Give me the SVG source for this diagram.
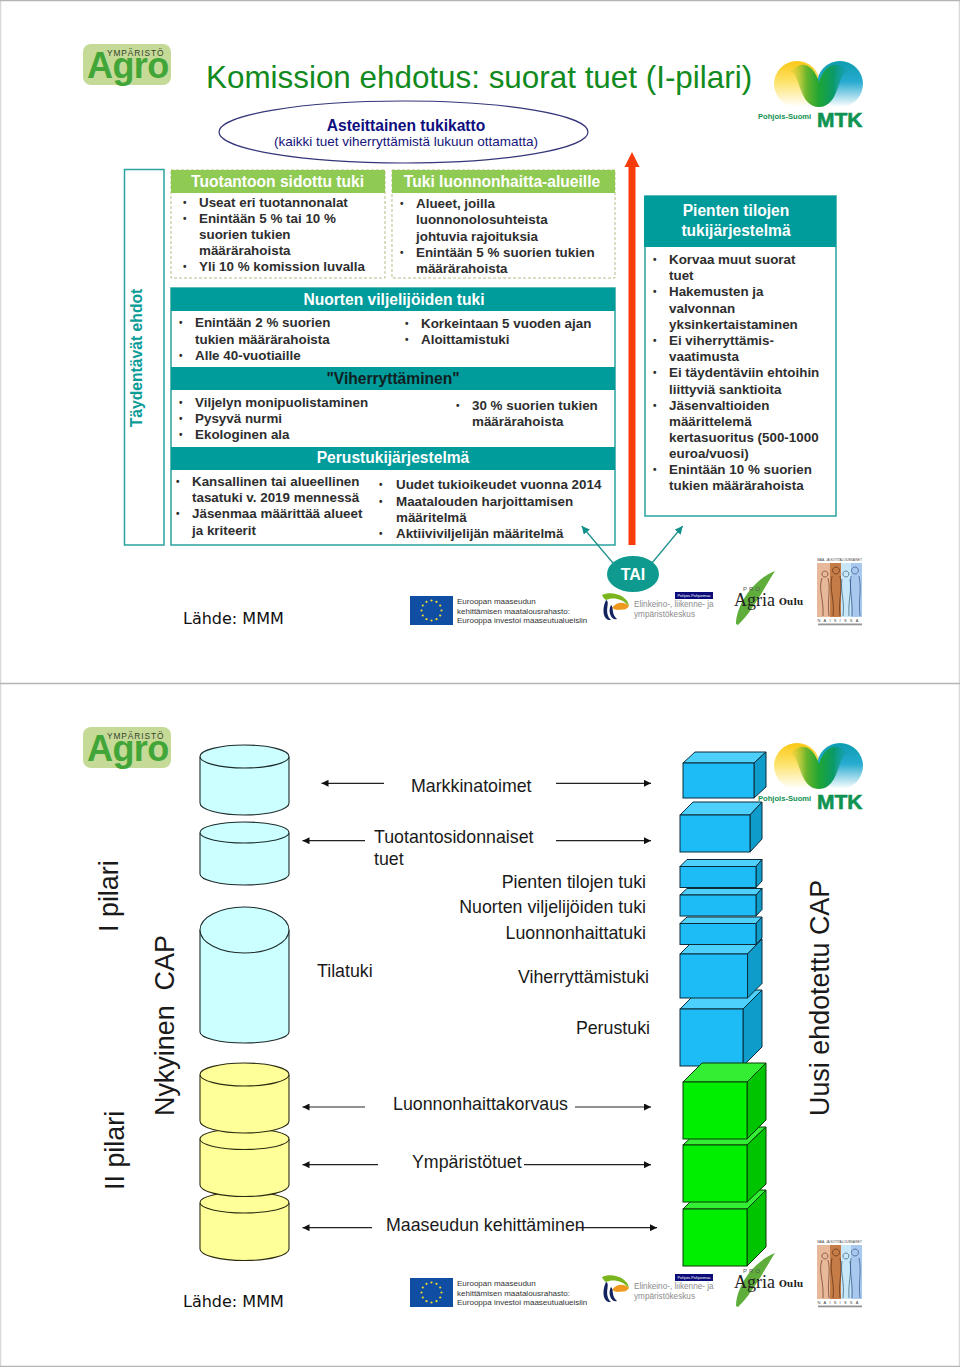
<svg xmlns="http://www.w3.org/2000/svg" width="960" height="1367" viewBox="0 0 960 1367">
<style>
text{font-family:"Liberation Sans",Arial,sans-serif}
.b{font-size:13.4px;font-weight:700;fill:#2e2e2e}
.bu{font-size:10px;font-weight:700;fill:#2e2e2e}
.h{font-size:15.6px;font-weight:700;fill:#fff;text-anchor:middle}
.t{font-size:17.8px;fill:#1a1a1a}
.e{text-anchor:end}
.v{font-size:26.9px;fill:#1a1a1a}
.src{font-family:"DejaVu Sans",sans-serif;font-size:16px;fill:#111}
.band{fill:#009b9b}
.gh{fill:#8fca52}
.dash{fill:#fff;stroke:#b9bb85;stroke-width:1;stroke-dasharray:3 2}
.tb{fill:#fff;stroke:#2aa39f;stroke-width:1.5}
.cy{stroke:#1c2b2b;stroke-width:1.1;fill:#ccffff}
.ye{stroke:#2b2b10;stroke-width:1.1;fill:#ffff99}
.f1{fill:#1dbcf6;stroke:#0c2c3a;stroke-width:1}
.t1{fill:#4dd0fb;stroke:#0c2c3a;stroke-width:1}
.s1{fill:#0e9ccb;stroke:#0c2c3a;stroke-width:1}
.f2{fill:#00ee00;stroke:#0a3a0a;stroke-width:1}
.t2{fill:#33ee33;stroke:#0a3a0a;stroke-width:1}
.s2{fill:#00c400;stroke:#0a3a0a;stroke-width:1}
.con{fill:none;stroke:#222;stroke-width:1.2;marker-end:url(#ah)}
.tc{fill:none;stroke:#1a8f8a;stroke-width:1.2;marker-end:url(#at)}
.eut{font-size:8px;fill:#333}
.ely{font-size:8.2px;fill:#8c8c8c}
.agro{font-size:36px;font-weight:700;letter-spacing:-.6px;fill:#41a637}
.ymp{font-size:8.4px;fill:#33442a;letter-spacing:.9px}
.pohj{font-size:7.6px;font-weight:700;fill:#12914f}
.mtk{font-size:21px;font-weight:700;fill:#0f9350;stroke:#0f9350;stroke-width:.6}
.pro{font-size:6px;letter-spacing:2px;fill:#555}
.agr{font-family:"Liberation Serif",serif;font-size:18px;fill:#222}
.oul{font-family:"DejaVu Serif",serif;font-size:9px;font-weight:700;fill:#222}
.n1{font-size:3.2px;fill:#444;text-anchor:middle}
.n2{font-size:4px;letter-spacing:3.2px;fill:#444;text-anchor:middle}
.pp{font-size:3.8px;fill:#fff;text-anchor:middle}
</style>
<defs>
<marker id="ah" markerWidth="8" markerHeight="7" refX="7" refY="3.5" orient="auto" markerUnits="userSpaceOnUse"><path d="M0 0L7 3.5L0 7z" fill="#111"/></marker>
<marker id="at" markerWidth="9" markerHeight="8" refX="8" refY="4" orient="auto" markerUnits="userSpaceOnUse"><path d="M0 0L8 4L0 8z" fill="#12908c"/></marker>
<linearGradient id="gY" x1="0.3" y1="0" x2="0.3" y2="1"><stop offset="0" stop-color="#fbc815"/><stop offset=".45" stop-color="#fde36a"/><stop offset="1" stop-color="#fff"/></linearGradient>
<linearGradient id="gB" x1="0.7" y1="0" x2="0.7" y2="1"><stop offset="0" stop-color="#0d9cb0"/><stop offset=".45" stop-color="#27abd0"/><stop offset="1" stop-color="#fff"/></linearGradient>
<linearGradient id="gG" x1="0" y1="0" x2="1" y2="0"><stop offset="0" stop-color="#d8cf30" stop-opacity=".2"/><stop offset=".28" stop-color="#6cb52c"/><stop offset=".5" stop-color="#1fa534"/><stop offset=".75" stop-color="#0a9a68"/><stop offset="1" stop-color="#0e9aa0" stop-opacity=".2"/></linearGradient>
<g id="mtkArt">
<circle cx="797" cy="84" r="23" fill="url(#gY)"/>
<circle cx="840" cy="84" r="23" fill="url(#gB)"/>
<path d="M790 72C800 70 798 107 819 107C840 107 838 70 848 72C836 58 824 66 819 82C814 66 802 58 790 72z" fill="url(#gG)"/>
</g>
<g id="eu">
<rect x="410" y="596" width="43" height="29" fill="#0f4ea2"/>
<g fill="#f5dc2a"><circle cx="441.5" cy="610.5" r="1.1"/><circle cx="440.2" cy="615.5" r="1.1"/><circle cx="436.5" cy="619.2" r="1.1"/><circle cx="431.5" cy="620.5" r="1.1"/><circle cx="426.5" cy="619.2" r="1.1"/><circle cx="422.8" cy="615.5" r="1.1"/><circle cx="421.5" cy="610.5" r="1.1"/><circle cx="422.8" cy="605.5" r="1.1"/><circle cx="426.5" cy="601.8" r="1.1"/><circle cx="431.5" cy="600.5" r="1.1"/><circle cx="436.5" cy="601.8" r="1.1"/><circle cx="440.2" cy="605.5" r="1.1"/></g>
</g>
<g id="elyArt">
<path d="M602 595C612 590 628 596 629 606C622 598 612 597 606 600C604 599 603 597 602 595z" fill="#7ab51d"/>
<path d="M612 608C616 602 624 601 629 606C626 611 622 609 618 610C616 610 614 609 612 608z" fill="#ee9a1e"/>
<path d="M606 600C611 602 603 612 611 620C604 621 601 611 606 600zM611 605C614 607 611 614 617 619C612 621 607 612 611 605z" fill="#13235f"/>
</g>
<path id="leaf" d="M736 624C736 606 752 580 775 571C766 585 752 612 738 625z" fill="#5fae3c"/>
<g id="nais">
<rect x="817" y="563" width="13" height="54" fill="#e8b89a"/>
<rect x="830" y="563" width="11" height="54" fill="#c67c47"/>
<rect x="841" y="563" width="10" height="54" fill="#c7e6f8"/>
<rect x="851" y="563" width="11" height="54" fill="#a9c8ee"/>
<g fill="none" stroke-width=".7">
<path d="M825 571a3 3 0 1 1-.1 0M822 578C818 590 824 598 823 616M828 578C831 590 827 600 829 616" stroke="#6b3a20"/>
<path d="M836 567a3.5 3.5 0 1 1-.1 0M832 576C829 590 835 600 833 616M840 576C843 590 838 600 840 616" stroke="#5c2f15"/>
<path d="M846 571a3 3 0 1 1-.1 0M842 579C840 592 845 600 843 616M850 579C852 592 848 600 849 616" stroke="#2d5a78"/>
<path d="M855 567a3.5 3.5 0 1 1-.1 0M851 576C849 590 853 600 852 616M859 576C862 590 858 600 860 616" stroke="#34538a"/>
</g>
<rect x="818" y="623.5" width="44" height="1.8" fill="#666" opacity=".7"/>
</g>
</defs>
<rect x="0" y="0" width="960" height="1367" fill="#fff"/>
<path d="M.5 0V1367M959.5 0V1367" stroke="#d8d8d8" stroke-width="1.5" fill="none"/>
<path d="M0 .5H960M0 683.5H960M0 1366.5H960" stroke="#b4b4b4" stroke-width="1.3" fill="none"/>

<g id="logo-agro-1">
<rect x="83" y="44" width="88" height="41" rx="8" fill="#c6da98"/>
<text class="agro" x="87" y="78">Agro</text>
<text class="ymp" x="107" y="56">YMPÄRISTÖ</text>
</g>
<g id="title"><text x="206" y="88" font-size="31.4" fill="#118a20">Komission ehdotus: suorat tuet (I-pilari)</text></g>
<g id="logo-mtk-1">
<use href="#mtkArt"/>
<text class="pohj" x="758" y="119">Pohjois-Suomi</text>
<text class="mtk" x="817" y="127">MTK</text>
</g>
<g id="node-tukikatto">
<ellipse cx="403.5" cy="132" rx="184.5" ry="31" fill="#fff" stroke="#35357a" stroke-width="1.2"/>
<text x="406" y="131" font-size="15.6" font-weight="700" fill="#0e0e80" text-anchor="middle">Asteittainen tukikatto</text>
<text x="406" y="146" font-size="13.5" fill="#14147a" text-anchor="middle">(kaikki tuet viherryttämistä lukuun ottamatta)</text>
</g>
<g id="node-taydentavat">
<rect x="124.500" y="169.500" width="39.500" height="375.500" fill="#fff" stroke="#2aa39f" stroke-width="1.5"/>
<text transform="translate(142 358) rotate(-90)" font-size="15.7" font-weight="700" fill="#0a9b96" text-anchor="middle">Täydentävät ehdot</text>
</g>
<g id="node-sidottu">
<rect class="dash" x="171" y="170" width="214" height="108"/>
<rect class="gh" x="171" y="170" width="214" height="23"/>
<text class="h" x="277.500" y="187">Tuotantoon sidottu tuki</text>
<text class="bu" x="183" y="206">•</text><text class="b" x="199" y="207">Useat eri tuotannonalat</text>
<text class="bu" x="183" y="222">•</text><text class="b" x="199" y="223">Enintään 5 % tai 10 %</text>
<text class="b" x="199" y="239">suorien tukien</text>
<text class="b" x="199" y="255">määrärahoista</text>
<text class="bu" x="183" y="270">•</text><text class="b" x="199" y="271">Yli 10 % komission luvalla</text>
</g>
<g id="node-luonnonhaitta">
<rect class="dash" x="392" y="170" width="223" height="108"/>
<rect class="gh" x="392" y="170" width="223" height="23"/>
<text class="h" x="502" y="187">Tuki luonnonhaitta-alueille</text>
<text class="bu" x="400" y="207">•</text><text class="b" x="416" y="208">Alueet, joilla</text>
<text class="b" x="416" y="224">luonnonolosuhteista</text>
<text class="b" x="416" y="241">johtuvia rajoituksia</text>
<text class="bu" x="400" y="256">•</text><text class="b" x="416" y="257">Enintään 5 % suorien tukien</text>
<text class="b" x="416" y="273">määrärahoista</text>
</g>
<g id="node-perustaso">
<rect class="tb" x="171" y="288" width="444" height="257"/>
</g>
<g id="node-nuoret">
<rect class="band" x="171" y="288" width="444" height="23"/>
<text class="h" x="394" y="305">Nuorten viljelijöiden tuki</text>
<text class="bu" x="179" y="326">•</text><text class="b" x="195" y="327">Enintään 2 % suorien</text>
<text class="b" x="195" y="344">tukien määrärahoista</text>
<text class="bu" x="179" y="359">•</text><text class="b" x="195" y="360">Alle 40-vuotiaille</text>
<text class="bu" x="405" y="327">•</text><text class="b" x="421" y="328">Korkeintaan 5 vuoden ajan</text>
<text class="bu" x="405" y="343">•</text><text class="b" x="421" y="344">Aloittamistuki</text>
</g>
<g id="node-viherryttaminen">
<rect class="band" x="171" y="367" width="444" height="23"/>
<text class="h" x="393" y="384" style="fill:#10201f">"Viherryttäminen"</text>
<text class="bu" x="179" y="406">•</text><text class="b" x="195" y="407">Viljelyn monipuolistaminen</text>
<text class="bu" x="179" y="422">•</text><text class="b" x="195" y="423">Pysyvä nurmi</text>
<text class="bu" x="179" y="438">•</text><text class="b" x="195" y="439">Ekologinen ala</text>
<text class="bu" x="456" y="409">•</text><text class="b" x="472" y="410">30 % suorien tukien</text>
<text class="b" x="472" y="426">määrärahoista</text>
</g>
<g id="node-perustuki">
<rect class="band" x="171" y="447" width="444" height="23"/>
<text class="h" x="393" y="463">Perustukijärjestelmä</text>
<text class="bu" x="176" y="485">•</text><text class="b" x="192" y="486">Kansallinen tai alueellinen</text>
<text class="b" x="192" y="502">tasatuki v. 2019 mennessä</text>
<text class="bu" x="176" y="517">•</text><text class="b" x="192" y="518">Jäsenmaa määrittää alueet</text>
<text class="b" x="192" y="535">ja kriteerit</text>
<text class="bu" x="379" y="488">•</text><text class="b" x="396" y="489">Uudet tukioikeudet vuonna 2014</text>
<text class="bu" x="379" y="505">•</text><text class="b" x="396" y="506">Maatalouden harjoittamisen</text>
<text class="b" x="396" y="522">määritelmä</text>
<text class="bu" x="379" y="537">•</text><text class="b" x="396" y="538">Aktiiviviljelijän määritelmä</text>
</g>
<g id="node-pienet">
<rect class="tb" x="645" y="196" width="191" height="320"/>
<rect class="band" x="644" y="196" width="192" height="51"/>
<text class="h" x="736" y="216">Pienten tilojen</text>
<text class="h" x="736" y="236">tukijärjestelmä</text>
<text class="bu" x="653" y="263">•</text><text class="b" x="669" y="264">Korvaa muut suorat</text>
<text class="b" x="669" y="280">tuet</text>
<text class="bu" x="653" y="295">•</text><text class="b" x="669" y="296">Hakemusten ja</text>
<text class="b" x="669" y="312.500">valvonnan</text>
<text class="b" x="669" y="329">yksinkertaistaminen</text>
<text class="bu" x="653" y="344">•</text><text class="b" x="669" y="345">Ei viherryttämis-</text>
<text class="b" x="669" y="361">vaatimusta</text>
<text class="bu" x="653" y="376">•</text><text class="b" x="669" y="377">Ei täydentäviin ehtoihin</text>
<text class="b" x="669" y="393.500">liittyviä sanktioita</text>
<text class="bu" x="653" y="408.500">•</text><text class="b" x="669" y="409.500">Jäsenvaltioiden</text>
<text class="b" x="669" y="425.500">määrittelemä</text>
<text class="b" x="669" y="442">kertasuoritus (500-1000</text>
<text class="b" x="669" y="458">euroa/vuosi)</text>
<text class="bu" x="653" y="473">•</text><text class="b" x="669" y="474">Enintään 10 % suorien</text>
<text class="b" x="669" y="490">tukien määrärahoista</text>
</g>
<g id="node-tai">
<ellipse cx="633" cy="574" rx="26" ry="18" fill="#0f9a8f"/>
<text x="633" y="579.500" font-size="16" font-weight="700" fill="#fff" text-anchor="middle">TAI</text>
</g>
<g id="connectors-1">
<path d="M632 545V165" fill="none" stroke="#f53c0a" stroke-width="7"/>
<path d="M624.500 167L632 152L639.500 167z" fill="#f53c0a"/>
<path class="tc" d="M613 563L581.700 526"/>
<path class="tc" d="M652 563L682.700 526"/>
</g>
<g id="source-1"><text class="src" x="183" y="624">Lähde: MMM</text></g>
<g id="logo-eu-1">
<use href="#eu"/>
<text class="eut" x="457" y="604">Euroopan maaseudun</text>
<text class="eut" x="457" y="613.500">kehittämisen maatalousrahasto:</text>
<text class="eut" x="457" y="623">Eurooppa investoi maaseutualueisiin</text>
</g>
<g id="logo-ely-1">
<use href="#elyArt"/>
<rect x="675" y="592" width="38" height="7" fill="#0a0a78"/>
<text class="pp" x="694" y="597">Pohjois-Pohjanmaa</text>
<text class="ely" x="634" y="607">Elinkeino-, liikenne- ja</text>
<text class="ely" x="634" y="617">ympäristökeskus</text>
</g>
<g id="logo-agria-1">
<use href="#leaf"/>
<text class="pro" x="743" y="591">PRO</text>
<text class="agr" x="734" y="606">Agria</text>
<text class="oul" x="779" y="605">Oulu</text>
</g>
<g id="logo-naisista-1">
<use href="#nais"/>
<text class="n1" x="839.500" y="561">MAA- JA KOTITALOUSNAISET</text>
<text class="n2" x="839.500" y="622">NAISISSA</text>
</g>

<g id="logo-agro-2">
<rect x="83" y="727" width="88" height="41" rx="8" fill="#c6da98"/>
<text class="agro" x="87" y="761">Agro</text>
<text class="ymp" x="107" y="739">YMPÄRISTÖ</text>
</g>
<g id="cyl-1"><path class="cy" d="M200 757V803A44.500 12 0 0 0 289 803V757"/><ellipse class="cy" cx="244.500" cy="756.500" rx="44.500" ry="11.500"/></g>
<g id="cyl-2"><path class="cy" d="M200 833V874A44.500 11 0 0 0 289 874V833"/><ellipse class="cy" cx="244.500" cy="832.500" rx="44.500" ry="10.500"/></g>
<g id="cyl-3"><path class="cy" d="M200 930V1032A44.500 11 0 0 0 289 1032V930"/><ellipse class="cy" cx="244.500" cy="930" rx="44.500" ry="23"/></g>
<g id="cyl-6"><path class="ye" d="M200 1203V1249A44.500 11.500 0 0 0 289 1249V1203"/><ellipse class="ye" cx="244.500" cy="1202.500" rx="44.500" ry="10.500"/></g>
<g id="cyl-5"><path class="ye" d="M200 1139V1185A44.500 11.500 0 0 0 289 1185V1139"/><ellipse class="ye" cx="244.500" cy="1139" rx="44.500" ry="10.500"/></g>
<g id="cyl-4"><path class="ye" d="M200 1075V1121A44.500 12 0 0 0 289 1121V1075"/><ellipse class="ye" cx="244.500" cy="1074.500" rx="44.500" ry="11.500"/></g>

<g id="box-7"><path class="t1" d="M680 1009L699 990H762L743 1009z"/><path class="s1" d="M743 1009L762 990V1047L743 1066z"/><rect class="f1" x="680" y="1009" width="63" height="57"/></g>
<g id="box-6"><path class="t1" d="M680 954L695 939H762L747.500 954z"/><path class="s1" d="M747.500 954L762 939V983.500L747.500 998z"/><rect class="f1" x="680" y="954" width="67.500" height="44"/></g>
<g id="box-5"><path class="t1" d="M680 923.500L687 917H762L756 923.500z"/><path class="s1" d="M756 923.500L762 917V938L756 944.500z"/><rect class="f1" x="680" y="923.500" width="76" height="21"/></g>
<g id="box-4"><path class="t1" d="M680 895L687 888.500H762L756 895z"/><path class="s1" d="M756 895L762 888.500V909.500L756 916z"/><rect class="f1" x="680" y="895" width="76" height="21"/></g>
<g id="box-3"><path class="t1" d="M680 866.500L687 859.500H762L756 866.500z"/><path class="s1" d="M756 866.500L762 859.500V881L756 887.500z"/><rect class="f1" x="680" y="866.500" width="76" height="21"/></g>
<g id="box-2"><path class="t1" d="M680 815L693 802H762L750 815z"/><path class="s1" d="M750 815L762 802V839L750 852z"/><rect class="f1" x="680" y="815" width="70" height="37"/></g>
<g id="box-1"><path class="t1" d="M683 763L695 752H766L754 763z"/><path class="s1" d="M754 763L766 752V787L754 798z"/><rect class="f1" x="683" y="763" width="71" height="35"/></g>
<g id="box-10"><path class="t2" d="M683 1209L702 1190H766L747 1209z"/><path class="s2" d="M747 1209L766 1190V1247L747 1266z"/><rect class="f2" x="683" y="1209" width="64" height="57"/></g>
<g id="box-9"><path class="t2" d="M683 1145L702 1127H766L747 1145z"/><path class="s2" d="M747 1145L766 1127V1184L747 1202z"/><rect class="f2" x="683" y="1145" width="64" height="57"/></g>
<g id="box-8"><path class="t2" d="M683 1082L702 1063H766L747 1082z"/><path class="s2" d="M747 1082L766 1063V1120L747 1139z"/><rect class="f2" x="683" y="1082" width="64" height="57"/></g>

<g id="logo-mtk-2" transform="translate(0 682)">
<use href="#mtkArt"/>
<text class="pohj" x="758" y="119">Pohjois-Suomi</text>
<text class="mtk" x="817" y="127">MTK</text>
</g>
<g id="labels">
<text transform="translate(118 932) rotate(-90)" class="v">I pilari</text>
<text transform="translate(124 1190) rotate(-90)" class="v">II pilari</text>
<text transform="translate(174 1116) rotate(-90)" class="v" xml:space="preserve">Nykyinen  CAP</text>
<text transform="translate(829 1116) rotate(-90)" class="v">Uusi ehdotettu CAP</text>
<text class="t" x="411" y="792">Markkinatoimet</text>
<text class="t" x="374" y="843">Tuotantosidonnaiset</text>
<text class="t" x="374" y="865">tuet</text>
<text class="t e" x="646" y="888">Pienten tilojen tuki</text>
<text class="t e" x="646" y="913">Nuorten viljelijöiden tuki</text>
<text class="t e" x="646" y="939">Luonnonhaittatuki</text>
<text class="t" x="317" y="977">Tilatuki</text>
<text class="t e" x="649" y="983">Viherryttämistuki</text>
<text class="t e" x="650" y="1034">Perustuki</text>
<text class="t" x="393" y="1110">Luonnonhaittakorvaus</text>
<text class="t" x="412" y="1168">Ympäristötuet</text>
<text class="t" x="386" y="1231">Maaseudun kehittäminen</text>
</g>
<g id="connectors-2">
<path class="con" d="M384 783.300H321.500"/>
<path class="con" d="M556 783.300H651"/>
<path class="con" d="M365 840.700H302.500"/>
<path class="con" d="M556 840.700H651"/>
<path class="con" d="M365 1107H302.500"/>
<path class="con" d="M575 1107H651"/>
<path class="con" d="M378 1164.700H302.500"/>
<path class="con" d="M524 1164.700H651"/>
<path class="con" d="M372 1227.700H302.500"/>
<path class="con" d="M577 1227.700H657"/>
</g>
<g id="source-2"><text class="src" x="183" y="1307">Lähde: MMM</text></g>
<g id="logo-eu-2" transform="translate(0 682)">
<use href="#eu"/>
<text class="eut" x="457" y="604">Euroopan maaseudun</text>
<text class="eut" x="457" y="613.500">kehittämisen maatalousrahasto:</text>
<text class="eut" x="457" y="623">Eurooppa investoi maaseutualueisiin</text>
</g>
<g id="logo-ely-2" transform="translate(0 682)">
<use href="#elyArt"/>
<rect x="675" y="592" width="38" height="7" fill="#0a0a78"/>
<text class="pp" x="694" y="597">Pohjois-Pohjanmaa</text>
<text class="ely" x="634" y="607">Elinkeino-, liikenne- ja</text>
<text class="ely" x="634" y="617">ympäristökeskus</text>
</g>
<g id="logo-agria-2" transform="translate(0 682)">
<use href="#leaf"/>
<text class="pro" x="743" y="591">PRO</text>
<text class="agr" x="734" y="606">Agria</text>
<text class="oul" x="779" y="605">Oulu</text>
</g>
<g id="logo-naisista-2" transform="translate(0 682)">
<use href="#nais"/>
<text class="n1" x="839.500" y="561">MAA- JA KOTITALOUSNAISET</text>
<text class="n2" x="839.500" y="622">NAISISSA</text>
</g>
</svg>
